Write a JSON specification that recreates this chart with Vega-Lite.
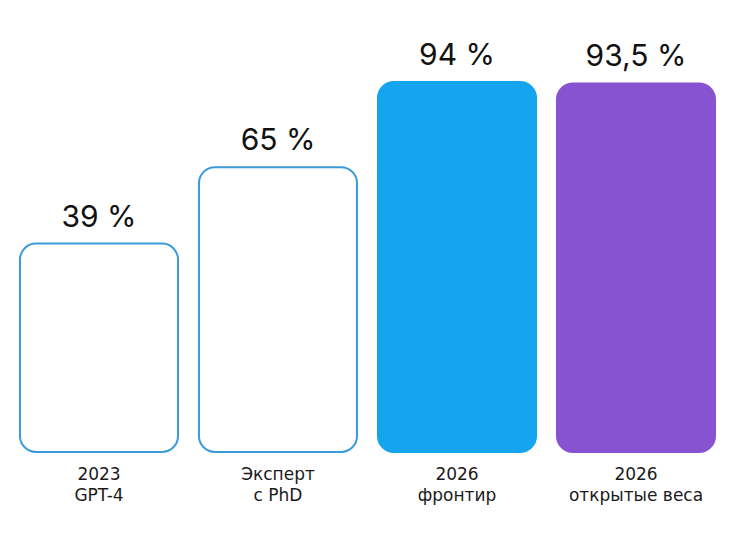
{
  "$schema": "https://vega.github.io/schema/vega-lite/v6.json",
  "width": 716,
  "height": 417,
  "autosize": {"type": "none"},
  "padding": {"left": 9.5, "top": 35, "right": 7.5, "bottom": 84},
  "background": "white",
  "config": {
    "view": {"stroke": null},
    "font": "Inter"
  },
  "data": {
    "values": [
      {"name": "2023\nGPT-4", "value": 39, "label": "39 %"},
      {"name": "Эксперт\nс PhD", "value": 65, "label": "65 %"},
      {"name": "2026\nфронтир", "value": 94, "label": "94 %"},
      {"name": "2026\nоткрытые веса", "value": 93.5, "label": "93,5 %"}
    ]
  },
  "encoding": {
    "x": {
      "field": "name",
      "type": "nominal",
      "sort": null,
      "scale": {"paddingInner": 0.117, "paddingOuter": 0.0585},
      "axis": {
        "title": null,
        "domain": false,
        "ticks": false,
        "labelAngle": 0,
        "labelFont": "DejaVu Sans",
        "labelFontSize": 17,
        "labelColor": "#1a1a1a",
        "labelPadding": 14,
        "labelLineHeight": 21,
        "labelExpr": "split(datum.label, '\\n')"
      }
    },
    "y": {
      "field": "value",
      "type": "quantitative",
      "scale": {"domain": [-32, 110], "zero": false, "nice": false},
      "axis": null
    }
  },
  "layer": [
    {
      "mark": {"type": "bar", "cornerRadius": 16, "strokeWidth": 2},
      "encoding": {
        "y2": {"datum": -32},
        "fill": {
          "field": "name",
          "type": "nominal",
          "sort": null,
          "scale": {"range": ["white", "white", "#14A5EE", "#8753D1"]},
          "legend": null
        },
        "stroke": {
          "field": "name",
          "type": "nominal",
          "sort": null,
          "scale": {"range": ["#3A9BDA", "#3A9BDA", "#14A5EE", "#8753D1"]},
          "legend": null
        }
      }
    },
    {
      "mark": {"type": "text", "fontSize": 30, "color": "#111111", "baseline": "alphabetic", "dy": -17},
      "encoding": {
        "text": {"field": "label"}
      }
    }
  ]
}
